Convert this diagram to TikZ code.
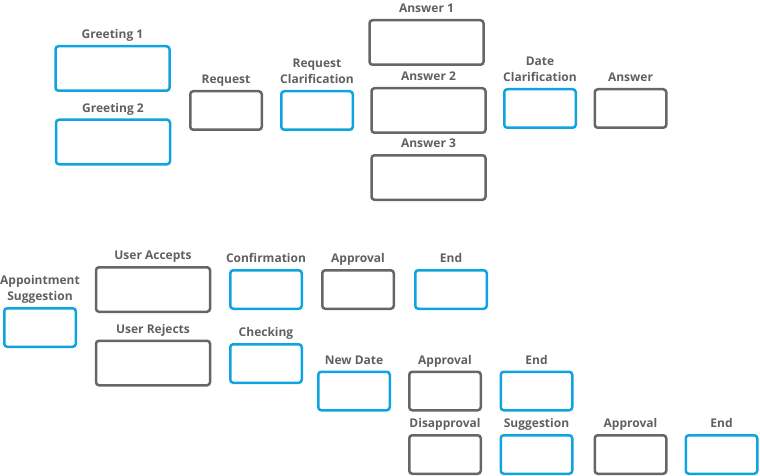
\documentclass[tikz,border=0pt]{standalone}
\usepackage{fontspec}
\setmainfont{Open Sans}
\usepackage{tikz}

\definecolor{boxblue}{HTML}{0FA3E0}
\definecolor{boxgray}{HTML}{666666}
\definecolor{txtgray}{HTML}{606060}

\tikzset{
    every label/.style={text=txtgray, font=\bfseries\fontsize{12}{16.5}\selectfont,
        align=center, inner sep=0pt, text depth=3pt},
    label distance=3pt,
    bigbox/.style={draw, rounded corners=3pt, line width=2.5pt, inner sep=0pt,
        minimum width=114pt, minimum height=44.5pt},
    smallbox/.style={draw, rounded corners=3pt, line width=2.5pt, inner sep=0pt,
        minimum width=71.5pt, minimum height=38.5pt},
    blue/.style={draw=boxblue},
    gray/.style={draw=boxgray}
}

\begin{document}
\begin{tikzpicture}[x=1pt, y=-1pt]
        \useasboundingbox (0,0) rectangle (760,476);
        % first dialogue
        \node[bigbox, blue, label=above:{Greeting 1}] (greet1) at (112.5,68.5) {};
        \node[bigbox, blue, label=above:{Greeting 2}] (greet2) at (113,142) {};
        \node[smallbox, gray, label=above:{Request}] (request) at (226,110.5) {};
        \node[smallbox, blue, label=above:{Request\\Clarification}] (reqclar) at (317,110.5) {};
        \node[bigbox, gray, label=above:{Answer 1}] (ans1) at (426.5,42.5) {};
        \node[bigbox, gray, label=above:{Answer 2}] (ans2) at (428.5,110.5) {};
        \node[bigbox, gray, label=above:{Answer 3}] (ans3) at (428.5,177.5) {};
        \node[smallbox, blue, label=above:{Date\\Clarification}] (dateclar) at (540,108.5) {};
        \node[smallbox, gray, label=above:{Answer}] (answer) at (630.5,108.5) {};
        % second dialogue
        \node[smallbox, blue, label=above:{Appointment\\Suggestion}] (apptsugg) at (40,327.5) {};
        \node[bigbox, gray, label=above:{User Accepts}] (accepts) at (153,289.5) {};
        \node[bigbox, gray, label=above:{User Rejects}] (rejects) at (153,363) {};
        \node[smallbox, blue, label=above:{Confirmation}] (confirm) at (266,289.5) {};
        \node[smallbox, blue, label=above:{Checking}] (checking) at (266,363.5) {};
        \node[smallbox, gray, label=above:{Approval}] (approval1) at (358,289.5) {};
        \node[smallbox, blue, label=above:{End}] (end1) at (451,289.5) {};
        \node[smallbox, blue, label=above:{New Date}] (newdate) at (354,391) {};
        \node[smallbox, gray, label=above:{Approval}] (approval2) at (445,391) {};
        \node[smallbox, blue, label=above:{End}] (end2) at (536.5,391) {};
        \node[smallbox, gray, label=above:{Disapproval}] (disappr) at (445,454.5) {};
        \node[smallbox, blue, label=above:{Suggestion}] (sugg) at (536.5,454.5) {};
        \node[smallbox, gray, label=above:{Approval}] (approval3) at (630.5,454.5) {};
        \node[smallbox, blue, label=above:{End}] (end3) at (721.5,454.5) {};
\end{tikzpicture}
\end{document}
